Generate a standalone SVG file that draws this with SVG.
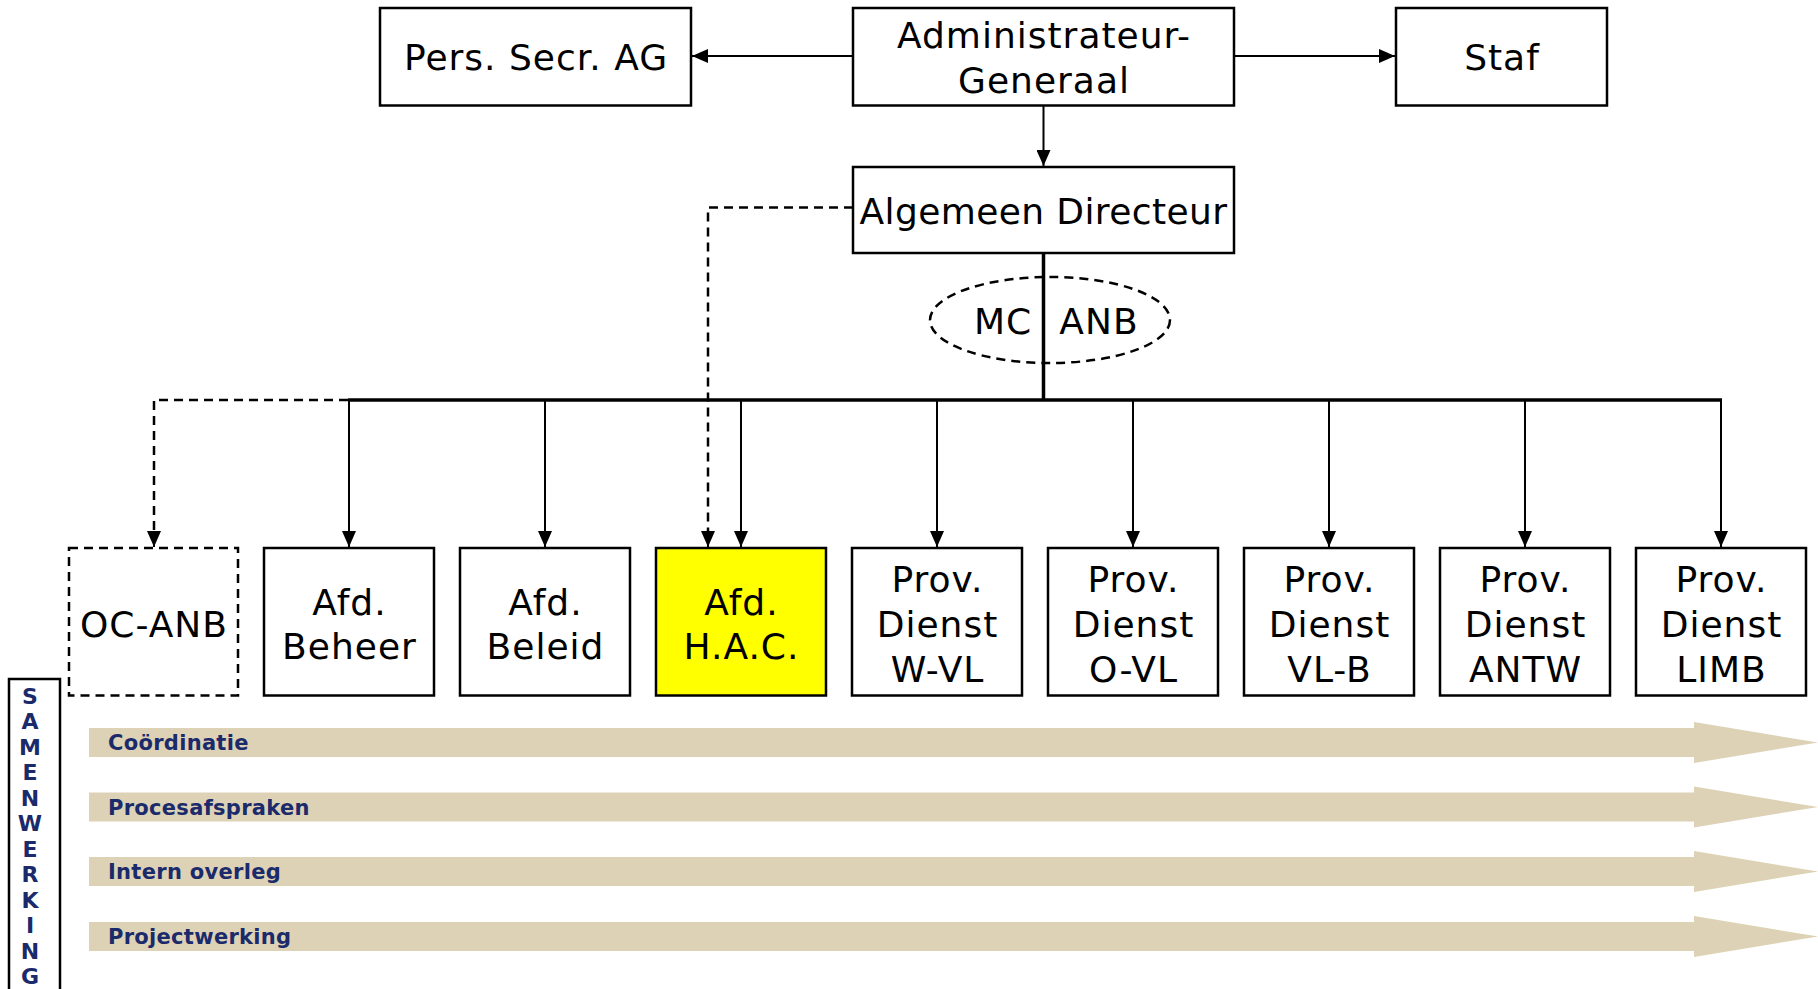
<svg xmlns="http://www.w3.org/2000/svg" width="1818" height="989" viewBox="0 0 1818 989">
<style>
.box{fill:#fff;stroke:#000;stroke-width:2.5}
.dbox{fill:#fff;stroke:#000;stroke-width:2.5;stroke-dasharray:9 6}
.t{font-family:"DejaVu Sans",Verdana,sans-serif;font-size:36px;letter-spacing:1px;fill:#000;text-anchor:middle}
.c{fill:none;stroke:#000;stroke-width:2}
.d{fill:none;stroke:#000;stroke-width:2.5;stroke-dasharray:9 6}
.band{fill:#ddd2b5}
.bl{font-family:"DejaVu Sans",Verdana,sans-serif;font-size:21px;font-weight:bold;letter-spacing:0.3px;fill:#1b2a6b}
.sv{font-family:"DejaVu Sans",Verdana,sans-serif;font-size:22px;font-weight:bold;fill:#1b2a6b;text-anchor:middle}
</style>
<defs>
<marker id="ah" markerWidth="16" markerHeight="14" refX="16" refY="7" orient="auto" markerUnits="userSpaceOnUse"><path d="M0,0 L16,7 L0,14 z" fill="#000"/></marker>
</defs>
<rect width="1818" height="989" fill="#fff"/>

<g id="connectors">
<line class="c" x1="853" y1="56" x2="692" y2="56" marker-end="url(#ah)"/>
<line class="c" x1="1234" y1="56" x2="1395" y2="56" marker-end="url(#ah)"/>
<line class="c" x1="1043.5" y1="106" x2="1043.5" y2="166" marker-end="url(#ah)"/>
<line x1="1043.5" y1="253" x2="1043.5" y2="400" stroke="#000" stroke-width="3.5"/>
<line x1="348" y1="400" x2="1722" y2="400" stroke="#000" stroke-width="3.5"/>
<polyline class="d" points="348,400 154,400 154,532"/>
<line class="c" x1="154" y1="532" x2="154" y2="547" marker-end="url(#ah)"/>
<polyline class="d" points="853,207.5 708,207.5 708,532"/>
<line class="c" x1="708" y1="532" x2="708" y2="547" marker-end="url(#ah)"/>
<line class="c" x1="349" y1="400" x2="349" y2="547" marker-end="url(#ah)"/>
<line class="c" x1="545" y1="400" x2="545" y2="547" marker-end="url(#ah)"/>
<line class="c" x1="741" y1="400" x2="741" y2="547" marker-end="url(#ah)"/>
<line class="c" x1="937" y1="400" x2="937" y2="547" marker-end="url(#ah)"/>
<line class="c" x1="1133" y1="400" x2="1133" y2="547" marker-end="url(#ah)"/>
<line class="c" x1="1329" y1="400" x2="1329" y2="547" marker-end="url(#ah)"/>
<line class="c" x1="1525" y1="400" x2="1525" y2="547" marker-end="url(#ah)"/>
<line class="c" x1="1721" y1="400" x2="1721" y2="547" marker-end="url(#ah)"/>
</g>

<g id="pers"><rect class="box" x="380" y="8" width="311" height="97.5"/><text class="t" x="536" y="70">Pers. Secr. AG</text></g>
<g id="ag"><rect class="box" x="853" y="8" width="381" height="97.5"/><text class="t" x="1044" y="48">Administrateur-</text><text class="t" x="1044" y="93">Generaal</text></g>
<g id="staf"><rect class="box" x="1396" y="8" width="211" height="97.5"/><text class="t" x="1502" y="70">Staf</text></g>
<g id="ad"><rect class="box" x="853" y="167" width="381" height="86"/><text class="t" x="1043.5" y="224" style="letter-spacing:0.4px">Algemeen Directeur</text></g>
<g id="mc"><ellipse cx="1050" cy="320" rx="120" ry="43" class="d"/><text class="t" x="1003" y="334">MC</text><text class="t" x="1099" y="334">ANB</text></g>

<g id="oc"><rect class="dbox" x="69" y="548" width="169" height="147.5"/><text class="t" x="154" y="637">OC-ANB</text></g>
<g id="beheer"><rect class="box" x="264" y="548" width="170" height="147.5"/><text class="t" x="349.5" y="615">Afd.</text><text class="t" x="349.5" y="659">Beheer</text></g>
<g id="beleid"><rect class="box" x="460" y="548" width="170" height="147.5"/><text class="t" x="545.5" y="615">Afd.</text><text class="t" x="545.5" y="659">Beleid</text></g>
<g id="hac"><rect class="box" x="656" y="548" width="170" height="147.5" style="fill:#ffff00"/><text class="t" x="741.5" y="615">Afd.</text><text class="t" x="741.5" y="659">H.A.C.</text></g>
<g id="wvl"><rect class="box" x="852" y="548" width="170" height="147.5"/><text class="t" x="937.5" y="592">Prov.</text><text class="t" x="937.5" y="637">Dienst</text><text class="t" x="937.5" y="682">W-VL</text></g>
<g id="ovl"><rect class="box" x="1048" y="548" width="170" height="147.5"/><text class="t" x="1133.5" y="592">Prov.</text><text class="t" x="1133.5" y="637">Dienst</text><text class="t" x="1133.5" y="682">O-VL</text></g>
<g id="vlb"><rect class="box" x="1244" y="548" width="170" height="147.5"/><text class="t" x="1329.5" y="592">Prov.</text><text class="t" x="1329.5" y="637">Dienst</text><text class="t" x="1329.5" y="682">VL-B</text></g>
<g id="antw"><rect class="box" x="1440" y="548" width="170" height="147.5"/><text class="t" x="1525.5" y="592">Prov.</text><text class="t" x="1525.5" y="637">Dienst</text><text class="t" x="1525.5" y="682">ANTW</text></g>
<g id="limb"><rect class="box" x="1636" y="548" width="170" height="147.5"/><text class="t" x="1721.5" y="592">Prov.</text><text class="t" x="1721.5" y="637">Dienst</text><text class="t" x="1721.5" y="682">LIMB</text></g>

<g id="samenwerking">
<rect x="9" y="679" width="51" height="320" fill="#fff" stroke="#000" stroke-width="2.5"/>
<text class="sv" x="30" y="703.5">S</text>
<text class="sv" x="30" y="729">A</text>
<text class="sv" x="30" y="754.5">M</text>
<text class="sv" x="30" y="780">E</text>
<text class="sv" x="30" y="805.5">N</text>
<text class="sv" x="30" y="831">W</text>
<text class="sv" x="30" y="856.5">E</text>
<text class="sv" x="30" y="882">R</text>
<text class="sv" x="30" y="907.5">K</text>
<text class="sv" x="30" y="933">I</text>
<text class="sv" x="30" y="958.5">N</text>
<text class="sv" x="30" y="984">G</text>
</g>

<g id="band1"><path class="band" d="M89,728 H1694 V722 L1818,742.5 L1694,763 V757 H89 z"/><text class="bl" x="108" y="750">Coördinatie</text></g>
<g id="band2"><path class="band" d="M89,792.5 H1694 V786.5 L1818,807 L1694,827.5 V821.5 H89 z"/><text class="bl" x="108" y="814.5">Procesafspraken</text></g>
<g id="band3"><path class="band" d="M89,857 H1694 V851 L1818,871.5 L1694,892 V886 H89 z"/><text class="bl" x="108" y="879">Intern overleg</text></g>
<g id="band4"><path class="band" d="M89,922 H1694 V916 L1818,936.5 L1694,957 V951 H89 z"/><text class="bl" x="108" y="944">Projectwerking</text></g>
</svg>
